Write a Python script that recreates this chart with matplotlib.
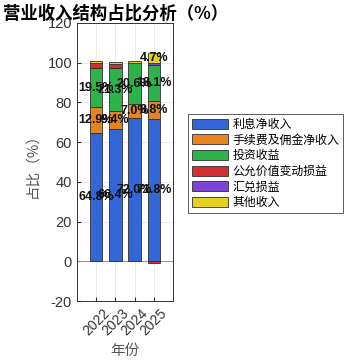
import numpy as np
import matplotlib
matplotlib.use("Agg")
import matplotlib.pyplot as plt

plt.rcParams['font.family'] = ['Noto Sans CJK SC', 'DejaVu Sans']

years = [2022, 2023, 2024, 2025]
names = ['利息净收入', '手续费及佣金净收入', '投资收益', '公允价值变动损益', '汇兑损益', '其他收入']
interest = [64.8, 66.4, 72.0, 71.8]
fee = [12.9, 9.4, 7.0, 8.8]
invest = [19.5, 21.3, 20.6, 18.1]
fair_value = [2.4, 2.0, 0.2, -0.7]
fx = [0.0, 0.0, 0.0, 1.3]
other = [1.2, 1.4, 1.3, 4.7]
series = [interest, fee, invest, fair_value, fx, other]
colors = ['#3366d6', '#e8841f', '#2eb34a', '#d42f2f', '#7d45d4', '#e6d21e']

fig = plt.figure(figsize=(3.46, 3.62), dpi=100)
ax = fig.add_axes([0.2225, 0.1685, 0.2775, 0.768])

x = np.array(years)
pos_base = np.zeros(len(years))
neg_base = np.zeros(len(years))
for vals, c, n in zip(series, colors, names):
    v = np.array(vals)
    bottom = np.where(v >= 0, pos_base, neg_base)
    ax.bar(x, v, 0.65, bottom=bottom, color=c, edgecolor='#303030',
           linewidth=0.6, label=n, zorder=3)
    for xi, b, vi in zip(x, bottom, v):
        if vi > 4:
            ax.text(xi, b + vi / 2, f'{vi:.1f}%', ha='center', va='center',
                    fontsize=9, fontweight='bold', color='#111111', zorder=4,
                    family='Liberation Sans')
    pos_base = pos_base + np.where(v > 0, v, 0)
    neg_base = neg_base + np.where(v < 0, v, 0)

ax.set_xlim(2021, 2026)
ax.set_ylim(-20, 120)
ax.set_xticks(years)
ax.set_xticklabels([str(y) for y in years], rotation=45, fontsize=10,
                   family='Liberation Sans')
ax.set_yticks(np.arange(-20, 121, 20))
ax.set_yticklabels([str(t) for t in range(-20, 121, 20)], fontsize=10.5,
                   family='Liberation Sans')
ax.tick_params(axis='y', colors='#333333', length=3, direction='in')
ax.tick_params(axis='x', colors='#333333', length=3, direction='in')
ax.grid(True, color='#e6e6e6', linewidth=0.6, zorder=0)
ax.axhline(0, color='#999999', linewidth=0.8, zorder=2)
for s in ax.spines.values():
    s.set_color('#333333')
    s.set_linewidth(0.7)

ax.set_ylabel('占比（%）', fontsize=10.5, color='#555555', labelpad=6)
ax.set_xlabel('年份', fontsize=10.5, color='#555555')

fig.text(0.008, 0.962, '营业收入结构占比分析（%）', fontsize=12.5, fontweight='bold',
         ha='left', va='center')

leg = ax.legend(loc='upper left', bbox_to_anchor=(1.09, 0.695), fontsize=8.6,
                frameon=True, fancybox=False, edgecolor='#333333',
                handlelength=3.0, handleheight=0.9, borderpad=0.35,
                labelspacing=0.22, handletextpad=0.4)
leg.get_frame().set_linewidth(0.7)

fig.savefig('out.png', dpi=100)
